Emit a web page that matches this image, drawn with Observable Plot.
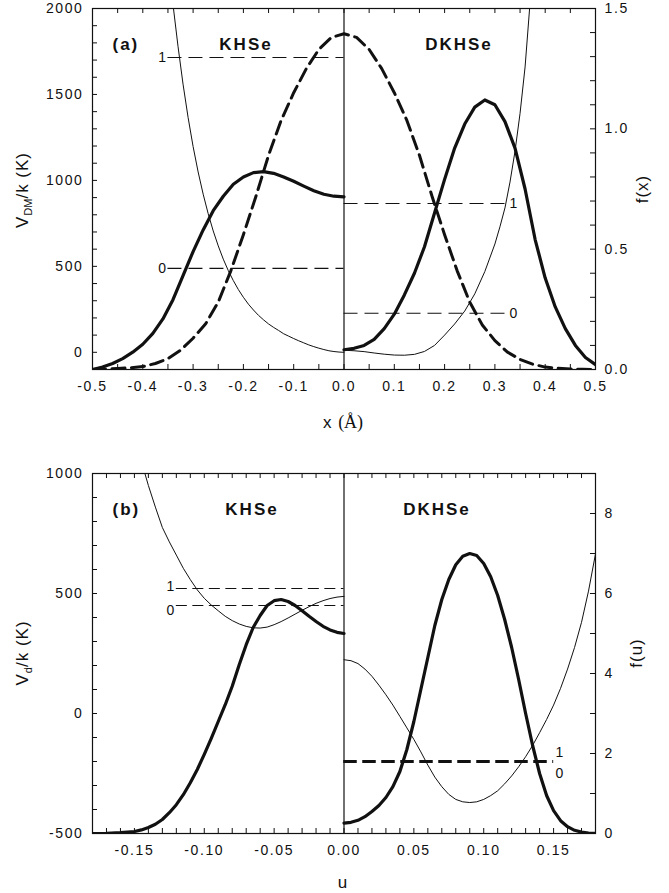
<!DOCTYPE html>
<html>
<head>
<meta charset="utf-8">
<script src="https://cdn.jsdelivr.net/npm/d3@7"></script>
<script src="https://cdn.jsdelivr.net/npm/@observablehq/plot@0.6"></script>
<style>
  body { margin: 0; background: #fff; }
  #chart svg { display: block; }
  #chart g[aria-label$="tick label"] text { letter-spacing: 1.6px; }
  #chart g[font-weight="bold"] text { letter-spacing: 2px; }
</style>
</head>
<body>
<div id="chart"></div>
<script>
// ================= (a) top panel data : x (Å) =================
// thin line: potential V_DM/k (K), left axis
const xPotKHSe = [-0.339,-0.33,-0.32,-0.31,-0.30,-0.29,-0.28,-0.27,-0.26,-0.25,-0.24,-0.23,-0.22,-0.21,-0.20,-0.19,-0.18,-0.17,-0.16,-0.15,-0.14,-0.13,-0.12,-0.11,-0.10,-0.09,-0.08,-0.07,-0.06,-0.05,-0.04,-0.03,-0.02,-0.01,0];
const vPotKHSe = [2000,1780,1560,1367,1197,1049,920,806,706,619,542,475,417,365,320,280,246,215,189,165,145,127,108,94,80,67,55,43,33,24,16,9,4.5,1.5,0];
const xPotDKHSe = [0,0.02,0.04,0.06,0.08,0.10,0.12,0.14,0.16,0.18,0.20,0.22,0.24,0.26,0.28,0.30,0.31,0.32,0.33,0.34,0.35,0.36,0.369];
const vPotDKHSe = [12,9,4,-4,-11,-16,-17,-12,5,40,100,165,240,340,470,630,730,840,990,1170,1390,1660,2000];
// thick solid line: f(x), right axis
const xWaveKHSe = [-0.50,-0.48,-0.46,-0.44,-0.42,-0.40,-0.38,-0.36,-0.34,-0.32,-0.30,-0.28,-0.26,-0.24,-0.22,-0.20,-0.18,-0.16,-0.14,-0.12,-0.10,-0.08,-0.06,-0.04,-0.02,0];
const fWaveKHSe = [0,0.01,0.025,0.045,0.072,0.105,0.15,0.21,0.29,0.39,0.49,0.58,0.66,0.72,0.77,0.80,0.818,0.822,0.815,0.80,0.782,0.762,0.743,0.728,0.72,0.717];
const xWaveDKHSe = [0,0.02,0.04,0.06,0.08,0.10,0.12,0.14,0.16,0.18,0.20,0.22,0.24,0.26,0.28,0.30,0.32,0.34,0.36,0.38,0.40,0.42,0.44,0.46,0.48,0.50];
const fWaveDKHSe = [0.082,0.088,0.10,0.125,0.17,0.23,0.31,0.40,0.51,0.65,0.79,0.92,1.02,1.09,1.12,1.10,1.03,0.92,0.75,0.54,0.38,0.26,0.17,0.10,0.05,0.02];
// thick dashed line: f(x), right axis
const xDensity = [-0.5,-0.475,-0.45,-0.425,-0.4,-0.375,-0.35,-0.325,-0.3,-0.275,-0.25,-0.225,-0.2,-0.175,-0.15,-0.125,-0.1,-0.075,-0.05,-0.025,0,0.025,0.05,0.075,0.1,0.125,0.15,0.175,0.2,0.225,0.25,0.275,0.3,0.325,0.35,0.375,0.4,0.425,0.45,0.475,0.5];
const fDensity = [0,0.002,0.004,0.007,0.012,0.025,0.045,0.08,0.13,0.19,0.28,0.41,0.56,0.72,0.89,1.035,1.15,1.25,1.33,1.38,1.395,1.38,1.33,1.25,1.15,1.035,0.89,0.72,0.56,0.41,0.28,0.185,0.12,0.072,0.042,0.022,0.01,0.005,0.002,0.001,0];
// energy levels (V_DM/k)
const levelsKHSeA = [488, 1715];
const levelNamesKHSeA = ["0", "1"];
const levelSpanKHSeA = [-0.35, 0];
const levelsDKHSeA = [227, 866];
const levelNamesDKHSeA = ["0", "1"];
const levelSpanDKHSeA = [0, 0.325];
// ticks
const xTicksA = [-0.5,-0.4,-0.3,-0.2,-0.1,0,0.1,0.2,0.3,0.4,0.5];
const vTicksA = [0,500,1000,1500,2000];
const fTicksA = [0,0.5,1.0,1.5];

// ================= (b) bottom panel data : u =================
const uPotKHSe = [-0.1425,-0.14,-0.135,-0.13,-0.125,-0.12,-0.115,-0.11,-0.105,-0.10,-0.095,-0.09,-0.085,-0.08,-0.075,-0.07,-0.065,-0.06,-0.055,-0.05,-0.045,-0.04,-0.035,-0.03,-0.025,-0.02,-0.015,-0.01,-0.005,0];
const vPotKHSeB = [1000,950,860,775,715,660,605,558,515,480,452,428,405,387,373,363,357,356,360,370,383,398,414,430,445,459,470,479,485,488];
const uPotDKHSe = [0,0.005,0.01,0.015,0.02,0.025,0.03,0.035,0.04,0.045,0.05,0.055,0.06,0.065,0.07,0.075,0.08,0.085,0.09,0.095,0.10,0.105,0.11,0.115,0.12,0.125,0.13,0.135,0.14,0.145,0.15,0.155,0.16,0.165,0.17,0.175,0.18];
const vPotDKHSeB = [224,220,208,185,155,118,78,35,-12,-60,-108,-160,-215,-265,-305,-337,-358,-368,-371,-368,-358,-342,-322,-293,-260,-222,-180,-133,-80,-25,35,105,185,275,380,510,665];
const uWaveKHSe = [-0.18,-0.17,-0.16,-0.15,-0.145,-0.14,-0.135,-0.13,-0.125,-0.12,-0.115,-0.11,-0.105,-0.10,-0.095,-0.09,-0.085,-0.08,-0.075,-0.07,-0.065,-0.06,-0.055,-0.05,-0.045,-0.04,-0.035,-0.03,-0.025,-0.02,-0.015,-0.01,-0.005,0];
const fWaveKHSeB = [0,0.005,0.02,0.05,0.09,0.15,0.23,0.35,0.52,0.72,0.97,1.27,1.6,1.98,2.38,2.8,3.22,3.68,4.22,4.72,5.15,5.45,5.7,5.82,5.85,5.8,5.7,5.57,5.43,5.3,5.18,5.09,5.03,5.0];
const uWaveDKHSe = [0,0.005,0.01,0.015,0.02,0.025,0.03,0.035,0.04,0.045,0.05,0.055,0.06,0.065,0.07,0.075,0.08,0.085,0.09,0.095,0.10,0.105,0.11,0.115,0.12,0.125,0.13,0.135,0.14,0.145,0.15,0.155,0.16,0.165,0.17,0.175,0.18];
const fWaveDKHSeB = [0.26,0.28,0.33,0.42,0.55,0.7,0.9,1.17,1.55,2.1,2.8,3.6,4.4,5.2,5.85,6.35,6.72,6.93,7.0,6.95,6.75,6.42,5.95,5.35,4.65,3.85,3.0,2.2,1.5,0.95,0.57,0.32,0.17,0.08,0.035,0.01,0];
const levelsKHSeB = [450, 521];
const levelNamesKHSeB = ["0", "1"];
const levelSpanKHSeB = [-0.12, 0];
const levelsDKHSeB = [-200, -200];
const levelNamesDKHSeB = ["0", "1"];
const levelSpanDKHSeB = [0, 0.15];
const uTicksB = [-0.15,-0.10,-0.05,0,0.05,0.10,0.15];
const vTicksB = [-500,0,500,1000];
const fTicksB = [0,2,4,6,8];

// ================= drawing =================
const INK = "#111";
const FONT = "Arial, 'Liberation Sans', Helvetica, sans-serif";
const SERIF = "'Liberation Serif', 'Times New Roman', serif";
const pts = (xs, ys) => xs.map((x, i) => ({x, y: ys[i]}));
const W = 669, ML = 92, MR = 74, PW = W - ML - MR, TICK = 5;

function levelMarks(L) {
  const left = L.side === "left";
  return [
    Plot.ruleY(L.levels, {x1: L.span[0], x2: L.span[1], stroke: INK, strokeWidth: L.width, strokeDasharray: L.dash}),
    ...L.levels.map((v, i) => Plot.text([v], {
      x: left ? L.span[0] : L.span[1], y: d => d, text: () => L.names[i],
      textAnchor: left ? "end" : "start", dx: left ? -2 : 2, dy: L.dys[i], fontSize: 14, fill: INK
    }))
  ];
}

function panel({height, marginTop, marginBottom, xDomain, yDomain, fScale, xMinor, yMinor, fMinor,
                xTicks, xFmt, yTicks, fTicks, fFmt, potentials, waves, density, levelSets, tag, names}) {
  const PH = height - marginTop - marginBottom;
  const marks = [
    Plot.frame({stroke: INK, strokeWidth: 1.2}),
    ...potentials.map(p => Plot.line(p, {x: "x", y: "y", stroke: INK, strokeWidth: 1, clip: true})),
    ...waves.map(w => Plot.line(w.map(d => ({x: d.x, y: fScale(d.y)})), {x: "x", y: "y", stroke: INK, strokeWidth: 3.2, clip: true})),
    ...(density ? [Plot.line(density.map(d => ({x: d.x, y: fScale(d.y)})), {x: "x", y: "y", stroke: INK, strokeWidth: 3, strokeDasharray: "13,6.5", clip: true})] : []),
    Plot.ruleX([0], {stroke: INK, strokeWidth: 1.2}),
    ...levelSets.flatMap(levelMarks),
    // inward ticks on all four sides
    Plot.tickY(yMinor, {insetRight: PW - TICK, stroke: INK}),
    Plot.tickY(fMinor.map(fScale), {insetLeft: PW - TICK, stroke: INK}),
    Plot.tickX(xMinor, {insetTop: PH - TICK, stroke: INK}),
    Plot.tickX(xMinor, {insetBottom: PH - TICK, stroke: INK}),
    // tick labels
    Plot.axisX(xTicks, {tickSize: 0, tickPadding: 12, tickFormat: xFmt, label: null, fontSize: 14}),
    Plot.axisY(yTicks, {anchor: "left", tickSize: 0, tickPadding: 9, tickFormat: d => String(d), label: null, fontSize: 14}),
    Plot.axisY(fTicks, {anchor: "right", y: fScale, tickSize: 0, tickPadding: 9, tickFormat: fFmt, label: null, fontSize: 14}),
    // panel names
    Plot.text([tag], {frameAnchor: "top-left", dx: 20, dy: 29, textAnchor: "start", fontWeight: "bold", fontSize: 17, fill: INK}),
    Plot.text([names[0]], {frameAnchor: "top", dx: names[2], dy: 29, fontWeight: "bold", fontSize: 17, fill: INK}),
    Plot.text([names[1]], {frameAnchor: "top", dx: names[3], dy: 29, fontWeight: "bold", fontSize: 17, fill: INK})
  ];
  return Plot.plot({
    width: W, height, marginLeft: ML, marginRight: MR, marginTop, marginBottom,
    x: {domain: xDomain}, y: {domain: yDomain},
    style: {fontFamily: FONT, fontSize: "14px", color: INK, background: "#fff", overflow: "visible"},
    marks
  });
}

function addTitle(svg, x, y, rotate, parts) {
  const t = d3.select(svg).append("text")
    .attr("transform", `translate(${x},${y})` + (rotate ? " rotate(-90)" : ""))
    .attr("text-anchor", "middle").attr("font-family", FONT).attr("font-size", 17)
    .attr("fill", INK).style("letter-spacing", "1px");
  let shifted = false;
  for (const [txt, kind] of parts) {
    const s = t.append("tspan").text(txt);
    if (kind === "sub") { s.attr("font-size", 11).attr("dy", 4).style("letter-spacing", "0px"); shifted = true; }
    else {
      if (shifted) { s.attr("dy", -4); shifted = false; }
      if (kind === "serif") s.attr("font-family", SERIF).attr("font-size", 18).style("letter-spacing", "0px");
    }
  }
}

// ---- panel (a) ----
const fA = d3.scaleLinear([0, 1.5], [-100, 2000]);
const svgA = panel({
  height: 440, marginTop: 8, marginBottom: 71,
  xDomain: [-0.5, 0.5], yDomain: [-100, 2000], fScale: fA,
  xMinor: d3.range(-10, 11, 1).map(d => d / 20), yMinor: d3.range(-100, 2001, 100), fMinor: d3.range(0, 16, 1).map(d => d / 10),
  xTicks: xTicksA, xFmt: d => d.toFixed(1), yTicks: vTicksA, fTicks: fTicksA, fFmt: d => d.toFixed(1),
  potentials: [pts(xPotKHSe, vPotKHSe), pts(xPotDKHSe, vPotDKHSe)],
  waves: [pts(xWaveKHSe, fWaveKHSe), pts(xWaveDKHSe, fWaveDKHSe)],
  density: pts(xDensity, fDensity),
  levelSets: [
    {levels: levelsKHSeA, names: levelNamesKHSeA, span: levelSpanKHSeA, side: "left", width: 1.1, dash: "14,7", dys: [0, 0]},
    {levels: levelsDKHSeA, names: levelNamesDKHSeA, span: levelSpanDKHSeA, side: "right", width: 1.1, dash: "14,7", dys: [0, 0]}
  ],
  tag: "(a)", names: ["KHSe", "DKHSe", -98, 115]
});
addTitle(svgA, 28, 190, true, [["V"], ["DM", "sub"], ["/k (K)"]]);
addTitle(svgA, 648, 189, true, [["f(x)"]]);
addTitle(svgA, 343, 428, false, [["x "], ["(Å)", "serif"]]);

// ---- panel (b) ----
const fB = d3.scaleLinear([0, 9], [-500, 1000]);
const svgB = panel({
  height: 453, marginTop: 33, marginBottom: 60,
  xDomain: [-0.18, 0.18], yDomain: [-500, 1000], fScale: fB,
  xMinor: d3.range(-18, 19, 1).map(d => d / 100), yMinor: d3.range(-500, 1001, 100), fMinor: d3.range(0, 10, 1),
  xTicks: uTicksB, xFmt: d => d.toFixed(2), yTicks: vTicksB, fTicks: fTicksB, fFmt: d => String(d),
  potentials: [pts(uPotKHSe, vPotKHSeB), pts(uPotDKHSe, vPotDKHSeB)],
  waves: [pts(uWaveKHSe, fWaveKHSeB), pts(uWaveDKHSe, fWaveDKHSeB)],
  density: null,
  levelSets: [
    {levels: levelsKHSeB, names: levelNamesKHSeB, span: levelSpanKHSeB, side: "left", width: 1.1, dash: "11,5.5", dys: [5, -2]},
    {levels: levelsDKHSeB, names: levelNamesDKHSeB, span: levelSpanDKHSeB, side: "right", width: 3, dash: "13,6", dys: [12, -9]}
  ],
  tag: "(b)", names: ["KHSe", "DKHSe", -92, 93]
});
addTitle(svgB, 28, 213, true, [["V"], ["d", "sub"], ["/k (K)"]]);
addTitle(svgB, 642, 213, true, [["f(u)"]]);
addTitle(svgB, 343, 448, false, [["u"]]);

document.getElementById("chart").append(svgA, svgB);
</script>
</body>
</html>
